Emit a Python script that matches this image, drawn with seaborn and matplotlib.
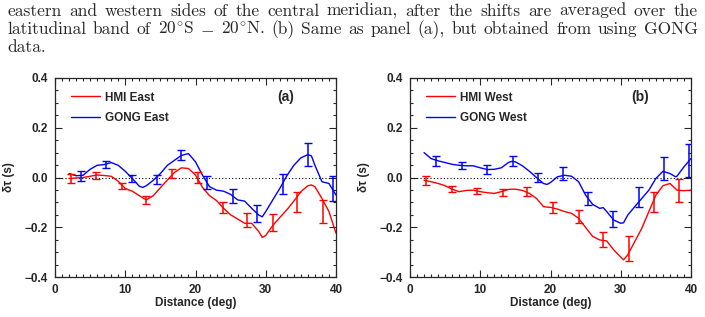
import numpy as np
import pandas as pd
import matplotlib
matplotlib.use("Agg")
import matplotlib.pyplot as plt
from matplotlib.ticker import MultipleLocator
import seaborn as sns

# Caption lines (top of the page)
caption_lines = [
    "eastern and western sides of the central meridian, after the shifts are averaged over the",
    r"latitudinal band of $20^{\!\circ}\!\mathrm{S}$ $-$ $20^{\!\circ}\!\mathrm{N}$. (b) Same as panel (a), but obtained from using GONG",
    "data.",
]

# Panel (a): east side, smooth curves
dist_a = [2, 3, 4, 5, 6, 7, 8, 9, 10, 11, 12, 12.5, 13, 14, 15, 16, 17, 18, 19, 20,
          21, 22, 23, 24, 25, 26, 27, 28, 29, 29.5, 30, 31, 32, 33, 34, 35, 36, 36.5,
          37, 38, 39, 40]
hmi_east = [-0.004, -0.002, 0.0, 0.005, 0.01, 0.008, 0.005, -0.015, -0.044, -0.055,
            -0.073, -0.082, -0.09, -0.073, -0.041, -0.01, 0.02, 0.039, 0.036, 0.01,
            -0.04, -0.073, -0.093, -0.124, -0.15, -0.167, -0.184, -0.184, -0.217,
            -0.241, -0.233, -0.193, -0.161, -0.13, -0.095, -0.057, -0.033, -0.03,
            -0.037, -0.084, -0.137, -0.224]
gong_east = [0.016, 0.007, 0.009, 0.033, 0.049, 0.052, 0.06, 0.049, 0.025, -0.004,
             -0.035, -0.04, -0.033, -0.011, 0.016, 0.049, 0.069, 0.089, 0.096, 0.063,
             0.009, -0.037, -0.051, -0.055, -0.068, -0.09, -0.095, -0.124, -0.151,
             -0.158, -0.137, -0.09, -0.044, 0.007, 0.049, 0.079, 0.092, 0.087,
             0.049, -0.017, -0.024, -0.071]

# Panel (a): error bars
err_x_hmi_a = [2.3, 5.8, 9.5, 13.0, 16.6, 20.3, 23.9, 27.4, 31.0, 34.5, 38.2]
err_y_hmi_a = [-0.004, 0.008, -0.033, -0.091, 0.016, 0.0, -0.12, -0.171, -0.18, -0.1, -0.137]
err_e_hmi_a = [0.018, 0.015, 0.012, 0.015, 0.02, 0.024, 0.023, 0.027, 0.035, 0.04, 0.045]
err_x_gong_a = [3.7, 7.3, 10.9, 14.5, 18.0, 21.6, 25.3, 28.8, 32.4, 36.0, 39.6]
err_y_gong_a = [0.006, 0.052, -0.004, -0.008, 0.089, -0.021, -0.075, -0.145, -0.025, 0.092, -0.045]
err_e_gong_a = [0.02, 0.015, 0.016, 0.02, 0.02, 0.027, 0.027, 0.035, 0.04, 0.045, 0.05]

# Panel (b): west side, smooth curves
dist_b = [2, 3, 4, 5, 6, 7, 8, 9, 10, 11, 12, 13, 14, 14.5, 15, 16, 17, 18, 19, 19.5,
          20, 21, 22, 23, 24, 25, 26, 27, 27.5, 28, 29, 30, 30.4, 31, 32, 33, 34, 35,
          36, 37, 37.8, 38, 39, 40]
hmi_west = [-0.011, -0.017, -0.024, -0.033, -0.047, -0.057, -0.052, -0.051, -0.057,
            -0.061, -0.064, -0.057, -0.048, -0.047, -0.047, -0.052, -0.064, -0.084,
            -0.117, -0.119, -0.12, -0.127, -0.137, -0.144, -0.164, -0.201, -0.237,
            -0.251, -0.253, -0.255, -0.291, -0.32, -0.331, -0.311, -0.257, -0.204,
            -0.137, -0.071, -0.033, -0.024, -0.045, -0.051, -0.053, -0.051]
gong_west = [0.1, 0.076, 0.067, 0.06, 0.053, 0.049, 0.047, 0.047, 0.039, 0.032, 0.033,
             0.039, 0.06, 0.065, 0.063, 0.047, 0.025, 0.0, -0.024, -0.028, -0.02,
             0.003, 0.009, 0.005, -0.017, -0.071, -0.108, -0.124, -0.121, -0.137,
             -0.171, -0.184, -0.182, -0.151, -0.117, -0.084, -0.051, -0.004, 0.025,
             0.016, 0.003, 0.005, 0.043, 0.076]

# Panel (b): error bars
err_x_hmi_b = [2.3, 6.0, 9.6, 13.2, 16.7, 20.4, 24.0, 27.5, 31.2, 34.8, 38.3]
err_y_hmi_b = [-0.013, -0.047, -0.055, -0.061, -0.057, -0.121, -0.157, -0.25, -0.286, -0.097, -0.053]
err_e_hmi_b = [0.018, 0.012, 0.013, 0.015, 0.018, 0.023, 0.027, 0.03, 0.05, 0.04, 0.045]
err_x_gong_b = [3.7, 7.45, 11.0, 14.7, 18.2, 21.8, 25.4, 28.9, 32.6, 36.2, 39.75]
err_y_gong_b = [0.067, 0.049, 0.032, 0.065, 0.0, 0.016, -0.084, -0.167, -0.08, 0.036, 0.069]
err_e_gong_b = [0.02, 0.013, 0.017, 0.02, 0.02, 0.025, 0.027, 0.033, 0.04, 0.045, 0.065]

sns.set_style("ticks")
plt.rcParams["font.family"] = ["Liberation Sans", "DejaVu Sans"]
plt.rcParams["mathtext.fontset"] = "cm"

fig = plt.figure(figsize=(7.05, 3.17), dpi=100)
W, H = 705, 317


def make_panel(left_px, dist, hmi, gong, ex_h, ey_h, ee_h, ex_g, ey_g, ee_g,
               hmi_label, gong_label, tag):
    ax = fig.add_axes([left_px / W, (H - 277) / H, 281 / W, 199 / H])
    df = pd.DataFrame({"Distance": dist, "HMI": hmi, "GONG": gong})
    ax.axhline(0, color="black", ls=(0, (1, 2)), lw=0.8, zorder=1)
    sns.lineplot(data=df, x="Distance", y="HMI", color="red", lw=1.0, ax=ax,
                 label=hmi_label)
    sns.lineplot(data=df, x="Distance", y="GONG", color="blue", lw=1.0, ax=ax,
                 label=gong_label)
    ax.errorbar(ex_h, ey_h, yerr=ee_h, fmt="none", ecolor="red", elinewidth=1.1,
                capsize=3, capthick=1.0)
    ax.errorbar(ex_g, ey_g, yerr=ee_g, fmt="none", ecolor="blue", elinewidth=1.1,
                capsize=3, capthick=1.0)
    ax.set_xlim(0, 40)
    ax.set_ylim(-0.4, 0.4)
    ax.xaxis.set_minor_locator(MultipleLocator(1))
    ax.yaxis.set_minor_locator(MultipleLocator(0.05))
    ax.tick_params(which="both", direction="in", top=True, right=True,
                   labelsize=8.5, width=0.8, pad=5)
    ax.tick_params(which="major", length=5)
    ax.tick_params(which="minor", length=2.5)
    ax.set_yticks([-0.4, -0.2, 0.0, 0.2, 0.4])
    ax.set_yticklabels(["\u22120.4", "\u22120.2", "0.0", "0.2", "0.4"], fontweight="bold")
    ax.set_xticks([0, 10, 20, 30, 40])
    ax.set_xticklabels(["0", "10", "20", "30", "40"], fontweight="bold")
    for s in ax.spines.values():
        s.set_linewidth(0.9)
    ax.set_xlabel("Distance (deg)", fontsize=8.5, fontweight="bold", labelpad=1)
    ax.set_ylabel("\u03b4\u03c4 (s)", fontsize=8.5, fontweight="bold", labelpad=7)
    ax.text(0.82, 0.905, tag, transform=ax.transAxes, fontsize=10,
            fontweight="bold", ha="center", va="center")
    ax.legend(loc="upper left", bbox_to_anchor=(0.02, 0.985), frameon=False,
              handlelength=2.4, handletextpad=0.45, labelspacing=0.7,
              prop={"weight": "bold", "size": 8.5})
    return ax


make_panel(55, dist_a, hmi_east, gong_east, err_x_hmi_a, err_y_hmi_a, err_e_hmi_a,
           err_x_gong_a, err_y_gong_a, err_e_gong_a, "HMI East", "GONG East", "(a)")
make_panel(410, dist_b, hmi_west, gong_west, err_x_hmi_b, err_y_hmi_b, err_e_hmi_b,
           err_x_gong_b, err_y_gong_b, err_e_gong_b, "HMI West", "GONG West", "(b)")

# Caption, justified word by word
fig.canvas.draw()
r = fig.canvas.get_renderer()
baselines = [15.5, 34, 52.5]
x0, x1 = 7, 698
for i, line in enumerate(caption_lines):
    words = line.split(" ")
    texts = [fig.text(0, 1 - baselines[i] / H, w, family="cmr10", fontsize=12.5,
                      va="baseline", ha="left") for w in words]
    widths = [t.get_window_extent(r).width for t in texts]
    if i < len(caption_lines) - 1 and len(words) > 1:
        gap = (x1 - x0 - sum(widths)) / (len(words) - 1)
    else:
        gap = 4.5
    x = x0
    for t, w in zip(texts, widths):
        t.set_x(x / W)
        x += w + gap

fig.savefig("out.png", dpi=100)
